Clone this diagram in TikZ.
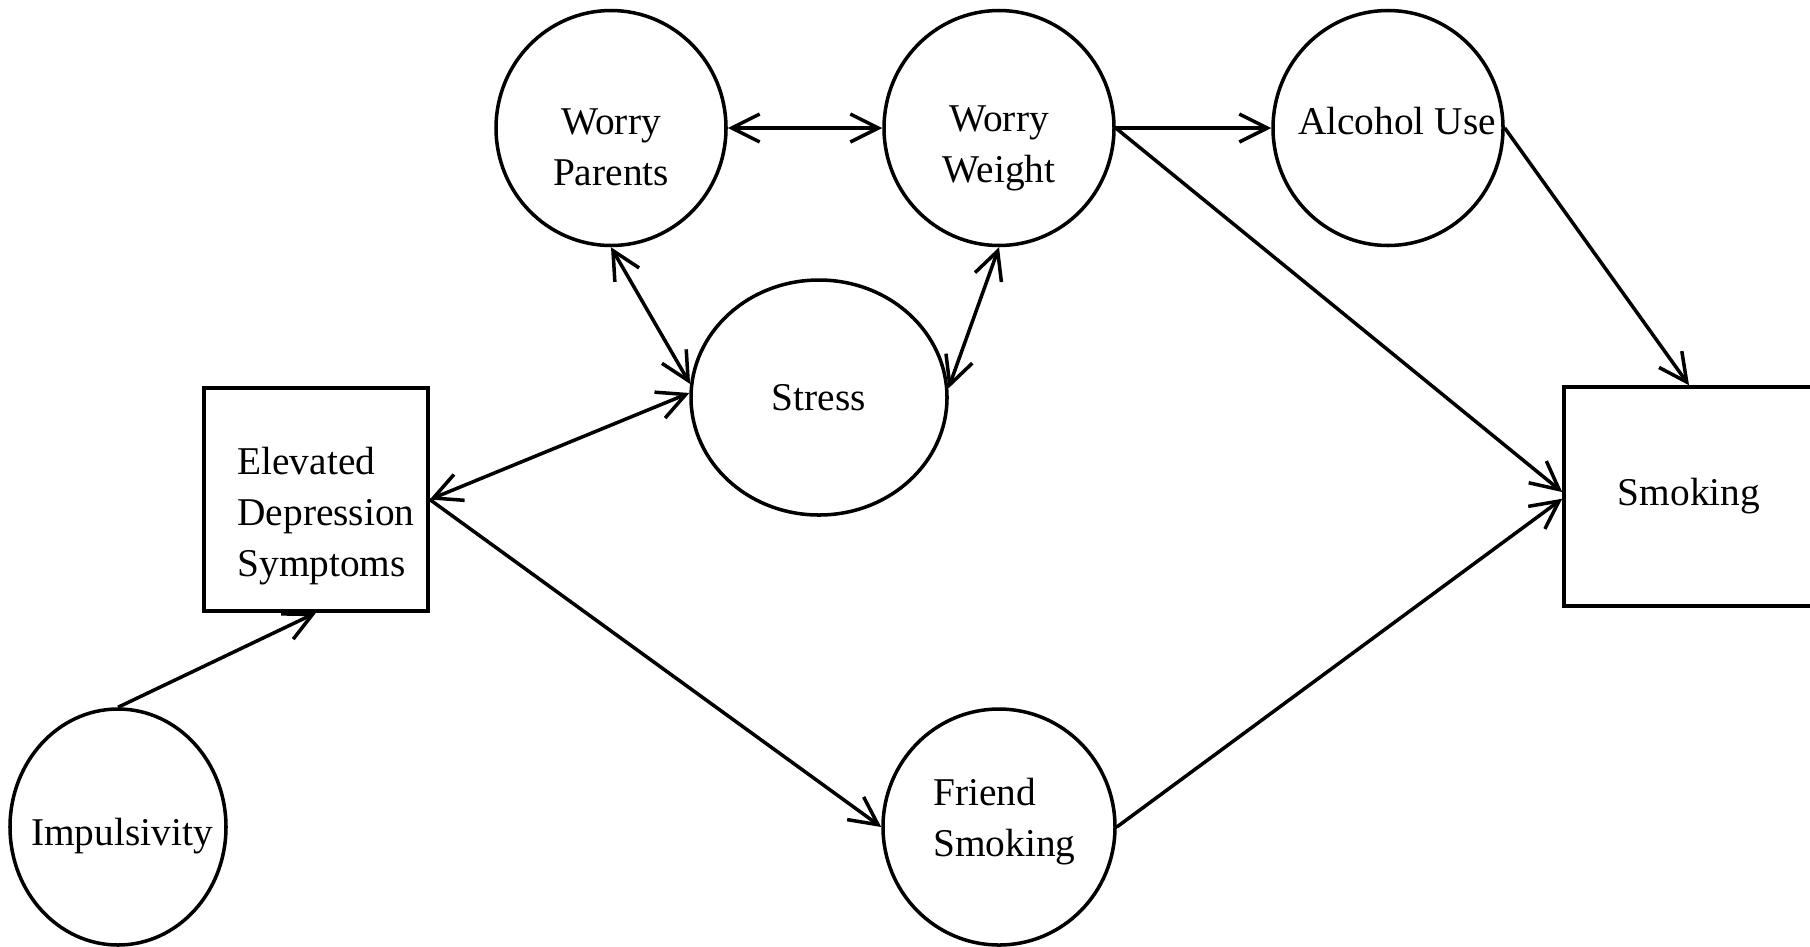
\documentclass[tikz,border=0pt]{standalone}
\usepackage{fontspec}
\setmainfont{Liberation Serif}
\usepackage{tikz}
\usetikzlibrary{arrows.meta, shapes.geometric, positioning, calc}

\begin{document}
\begin{tikzpicture}[
    latent/.style={draw, ellipse, line width=1pt, inner sep=0pt},
    observed/.style={draw, rectangle, line width=1pt, inner sep=0pt},
    lbl/.style={inner sep=0pt, align=center, font=\fontsize{11.2}{14.6}\selectfont},
    path/.style={line width=1pt, -{Straight Barb[length=2.8mm, width=2.8mm]}},
    covar/.style={line width=1pt, {Straight Barb[length=2.8mm, width=2.8mm]}-{Straight Barb[length=2.8mm, width=2.8mm]}}
  ]
  \useasboundingbox (0,0) rectangle (18.10,-9.46);

  % Latent variables
  \node[latent, minimum width=2.30cm, minimum height=2.35cm] (par) at (6.11,-1.28) {};
  \node[latent, minimum width=2.30cm, minimum height=2.35cm] (wgt) at (9.99,-1.28) {};
  \node[latent, minimum width=2.30cm, minimum height=2.35cm] (alc) at (13.88,-1.28) {};
  \node[latent, minimum width=2.56cm, minimum height=2.35cm, font=\fontsize{11.2}{14.6}\selectfont] (str) at (8.19,-3.975) {Stress};
  \node[latent, minimum width=2.16cm, minimum height=2.36cm] (imp) at (1.18,-8.27) {};
  \node[latent, minimum width=2.32cm, minimum height=2.36cm] (fri) at (9.99,-8.27) {};

  % Observed variables
  \node[observed, minimum width=2.24cm, minimum height=2.23cm] (dep) at (3.16,-4.995) {};
  \node[observed, minimum width=2.50cm, minimum height=2.19cm, font=\fontsize{11.2}{14.6}\selectfont] (smk) at (16.89,-4.965) {Smoking};

  % Labels
  \node[lbl] (par-t) at ($(par)+(0,-0.195)$) {Worry\\Parents};
  \node[lbl] (wgt-t) at ($(wgt)+(0,-0.205)$) {Worry\\Weight};
  \node[lbl] (alc-t) at ($(alc)+(0.09,0.065)$) {Alcohol Use};
  \node[lbl] (imp-t) at ($(imp)+(0.04,-0.09)$) {Impulsivity};
  \node[lbl, align=left] (fri-t) at ($(fri)+(0.055,0.055)$) {Friend\\Smoking};
  \node[lbl, align=left] (dep-t) at ($(dep)+(0.10,-0.165)$) {Elevated\\Depression\\Symptoms};

  % Paths
  \draw[path] (imp.north) -- (dep.south);
  \draw[covar] (dep.east) -- (str.178);
  \draw[path] (dep.east) -- (fri.west);
  \draw[covar] (par.south) -- (str.174);
  \draw[covar] (wgt.south) -- (str.4);
  \draw[covar] (par.east) -- (wgt.west);
  \draw[path] (wgt.east) -- (alc.west);
  \draw[path] (wgt.east) -- (smk.178);
  \draw[path] (fri.east) -- (smk.181);
  \draw[path] (alc.east) -- (smk.north);
\end{tikzpicture}
\end{document}
